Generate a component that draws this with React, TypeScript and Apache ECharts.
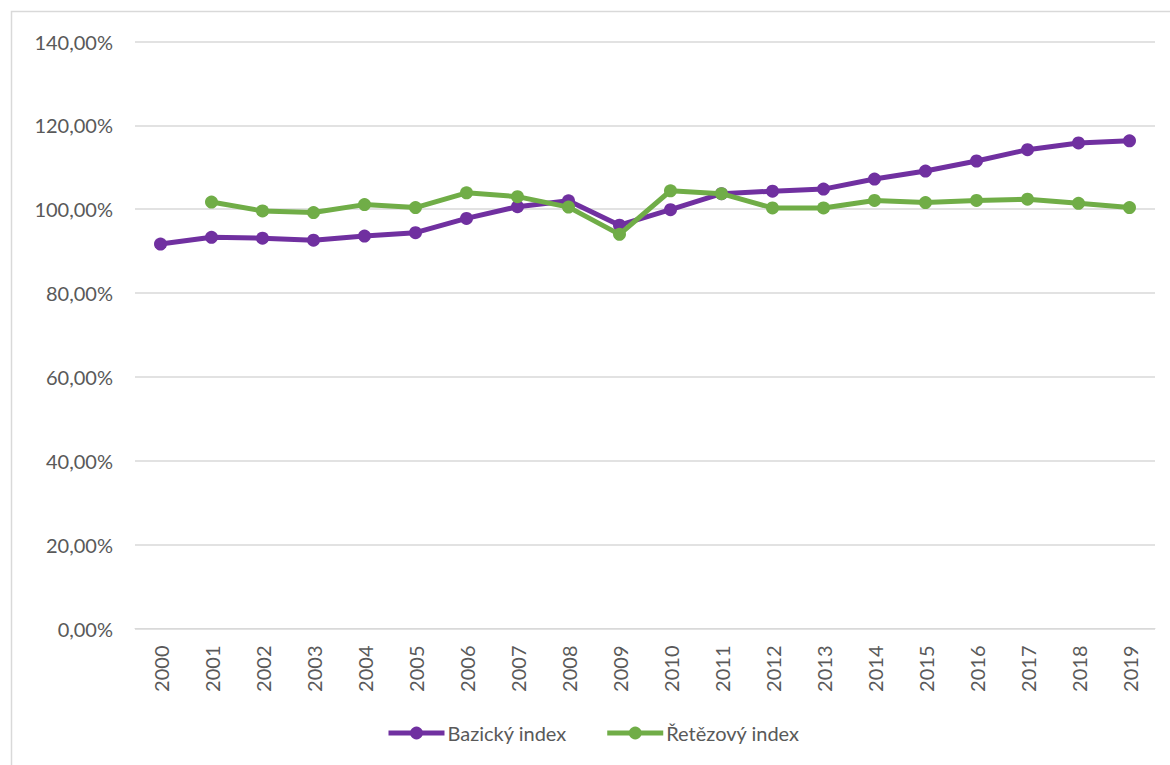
import React, { useEffect, useRef } from "react";
import * as echarts from "echarts";

const years = ["2000","2001","2002","2003","2004","2005","2006","2007","2008","2009","2010","2011","2012","2013","2014","2015","2016","2017","2018","2019"];
const bazickyIndex = [91.7, 93.3, 93.1, 92.6, 93.6, 94.4, 97.8, 100.6, 102.0, 96.2, 99.9, 103.7, 104.3, 104.8, 107.2, 109.1, 111.5, 114.2, 115.8, 116.3];
const retezovyIndex = [null, 101.7, 99.6, 99.2, 101.1, 100.4, 103.9, 103.0, 100.5, 94.0, 104.4, 103.7, 100.3, 100.3, 102.1, 101.6, 102.1, 102.4, 101.4, 100.4];
const seriesNames = ["Bazický index", "Řetězový index"];
const yTicks = { min: 0, max: 140, interval: 20 };

const FONT = "Lato";
const TEXT = "#595959";
const GRID = "#d9d9d9";

export default function App() {
  const ref = useRef<HTMLDivElement>(null);
  useEffect(() => {
    const chart = echarts.init(ref.current!, null, { renderer: "svg" });
    chart.setOption({
      animation: false,
      backgroundColor: "#ffffff",
      textStyle: { fontFamily: FONT, color: TEXT },
      graphic: [
        {
          type: "rect",
          shape: { x: 11.5, y: 11.5, width: 1300, height: 900 },
          style: { fill: "none", stroke: GRID, lineWidth: 1.5 },
          silent: true,
        },
      ],
      grid: { left: 135, right: 15, top: 41.5, bottom: 136.5, containLabel: false },
      legend: {
        left: 381,
        top: 718,
        itemWidth: 56,
        itemHeight: 16,
        itemGap: 38,
        data: seriesNames,
        lineStyle: { width: 5 },
        textStyle: { fontFamily: FONT, fontSize: 20, color: TEXT, padding: [0, 0, 0, -2] },
      },
      xAxis: {
        type: "category",
        data: years,
        boundaryGap: true,
        axisLine: { show: true, lineStyle: { color: GRID, width: 1 } },
        axisTick: { show: false },
        axisLabel: {
          rotate: 90,
          margin: 17,
          fontFamily: FONT,
          fontSize: 20,
          color: TEXT,
          interval: 0,
        },
      },
      yAxis: {
        type: "value",
        min: yTicks.min,
        max: yTicks.max,
        interval: yTicks.interval,
        axisLine: { show: false },
        axisTick: { show: false },
        splitLine: { lineStyle: { color: GRID, width: 1.5 } },
        axisLabel: {
          margin: 22,
          fontFamily: FONT,
          fontSize: 20,
          color: TEXT,
          formatter: (v: number) => v.toFixed(2).replace(".", ",") + "%",
        },
      },
      series: [
        {
          name: seriesNames[0],
          type: "line",
          data: bazickyIndex,
          symbol: "circle",
          symbolSize: 13,
          lineStyle: { color: "#7030A0", width: 5 },
          itemStyle: { color: "#7030A0" },
          z: 2,
        },
        {
          name: seriesNames[1],
          type: "line",
          data: retezovyIndex,
          symbol: "circle",
          symbolSize: 13,
          connectNulls: false,
          lineStyle: { color: "#70AD47", width: 5 },
          itemStyle: { color: "#70AD47" },
          z: 3,
        },
      ],
    });
    return () => chart.dispose();
  }, []);
  return (
    <div
      ref={ref}
      style={{ position: "fixed", left: 0, top: 0, width: 1170, height: 765, background: "#fff" }}
    />
  );
}
